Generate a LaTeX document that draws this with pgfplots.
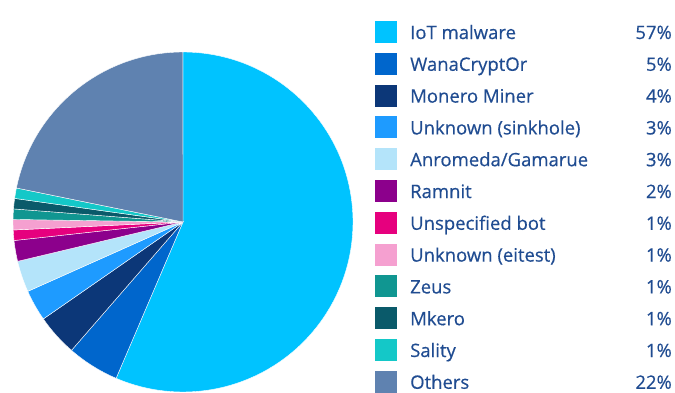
\documentclass[border=0pt]{standalone}
\usepackage{pgfplots}
\usepackage{pgfplotstable}
\pgfplotsset{compat=1.18}
\usepackage{fontspec}
\setmainfont{Open Sans}
\newfontfamily\lab{Open Sans}[FakeBold=0.5]

\definecolor{iot}{RGB}{0,195,255}
\definecolor{wana}{RGB}{0,102,204}
\definecolor{monero}{RGB}{12,55,120}
\definecolor{sinkhole}{RGB}{30,155,255}
\definecolor{anromeda}{RGB}{180,228,250}
\definecolor{ramnit}{RGB}{140,0,140}
\definecolor{unspec}{RGB}{230,0,126}
\definecolor{eitest}{RGB}{245,160,208}
\definecolor{zeus}{RGB}{16,150,145}
\definecolor{mkero}{RGB}{10,90,106}
\definecolor{sality}{RGB}{20,200,200}
\definecolor{others}{RGB}{95,130,176}
\definecolor{txt}{RGB}{32,76,145}

% share of each malware family, clockwise from the top
\pgfplotstableread[col sep=comma]{
label,value,color
IoT malware,57,iot
WanaCryptOr,5,wana
Monero Miner,4,monero
Unknown (sinkhole),3,sinkhole
Anromeda/Gamarue,3,anromeda
Ramnit,2,ramnit
Unspecified bot,1,unspec
Unknown (eitest),1,eitest
Zeus,1,zeus
Mkero,1,mkero
Sality,1,sality
Others,22,others
}\data

\begin{document}
\begin{tikzpicture}
\begin{axis}[
    x=1pt, y=1pt,
    xmin=0, xmax=675, ymin=0, ymax=392,
    hide axis, clip=false,
]
\pgfplotsextra{
  \xdef\total{0}
  \foreach \i in {0,...,11} {
    \pgfplotstablegetelem{\i}{value}\of\data
    \pgfmathsetmacro\s{\total+\pgfplotsretval}
    \xdef\total{\s}
  }
  \xdef\angA{90}
  \foreach \i in {0,...,11} {
    \pgfplotstablegetelem{\i}{value}\of\data \let\v\pgfplotsretval
    \pgfplotstablegetelem{\i}{color}\of\data \let\c\pgfplotsretval
    \pgfplotstablegetelem{\i}{label}\of\data \let\l\pgfplotsretval
    \pgfmathsetmacro\angB{\angA-\v/\total*360}
    \filldraw[fill=\c, draw=white, line width=0.4pt]
      (axis cs:183,170) -- (axis cs:{183+170*cos(\angA)},{170+170*sin(\angA)})
      arc[start angle=\angA, end angle=\angB, radius=170pt] -- cycle;
    % legend row
    \pgfmathsetmacro\yy{392-32-\i*31.8}
    \fill[fill=\c] (axis cs:375,\yy-11) rectangle (axis cs:397,\yy+11);
    \node[anchor=base west, inner sep=0pt, text=txt, font=\lab\fontsize{18.5}{22}\selectfont]
      at (axis cs:410,\yy-7) {\l};
    \node[anchor=base east, inner sep=0pt, text=txt, font=\lab\fontsize{18.5}{22}\selectfont]
      at (axis cs:672,\yy-7) {\v\%};
    \xdef\angA{\angB}
  }
}
\end{axis}
\pgfresetboundingbox
\path (0,0) rectangle (675pt,392pt);
\end{tikzpicture}
\end{document}
